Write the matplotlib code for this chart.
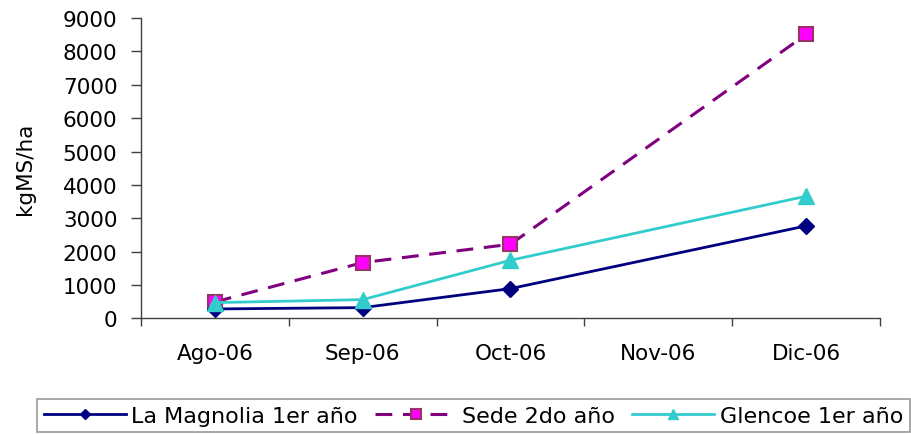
import numpy as np
import matplotlib
matplotlib.use('Agg')
import matplotlib.pyplot as plt
from matplotlib.ticker import FixedLocator, NullFormatter

plt.rcParams['font.family'] = ['DejaVu Sans']
FS = 15.5

months = ['Ago-06', 'Sep-06', 'Oct-06', 'Nov-06', 'Dic-06']
# no measurement taken in November
magnolia = [280, 320, 890, None, 2770]
sede = [490, 1670, 2220, None, 8510]
glencoe = [470, 560, 1740, None, 3660]

fig = plt.figure(figsize=(9.12, 4.35), dpi=100)
ax = fig.add_axes((0.1546, 0.266, 0.8103, 0.690))

def pts(vals):
    x = [i for i, v in enumerate(vals) if v is not None]
    y = [v for v in vals if v is not None]
    return x, y

x, y = pts(magnolia)
ax.plot(x, y, color='#000080', lw=2, marker='D', ms=8,
        mfc='#000080', mec='#000080', label='La Magnolia 1er año', zorder=3)
x, y = pts(sede)
ax.plot(x, y, color='#800080', lw=2.2, ls=(0, (5.5, 3.5)), marker='s', ms=10,
        mfc='#FF00FF', mec='#993366', mew=1.5, label='Sede 2do año', zorder=2)
x, y = pts(glencoe)
ax.plot(x, y, color='#33CCCC', lw=2, marker='^', ms=11,
        mfc='#33CCCC', mec='#33CCCC', label='Glencoe 1er año', zorder=4)

ax.set_xlim(-0.5, len(months) - 0.5)
ax.set_ylim(0, 9000)
ax.set_yticks(np.arange(0, 9001, 1000))

# ticks sit between categories, labels at the centres
ax.xaxis.set_major_locator(FixedLocator(np.arange(-0.5, len(months), 1.0)))
ax.xaxis.set_major_formatter(NullFormatter())
ax.xaxis.set_minor_locator(FixedLocator(np.arange(len(months))))
ax.set_xticklabels(months, minor=True)
ax.tick_params(axis='x', which='minor', length=0, pad=18, labelsize=FS)
ax.tick_params(axis='x', which='major', length=6, width=1, color='#404040')
ax.tick_params(axis='y', length=7, width=1, pad=10, labelsize=FS,
               color='#404040')

for s in ['top', 'right']:
    ax.spines[s].set_visible(False)
for s in ['left', 'bottom']:
    ax.spines[s].set_color('#404040')
    ax.spines[s].set_linewidth(1)

ax.set_ylabel('kgMS/ha', fontsize=FS, labelpad=20)

leg = fig.legend(loc='upper left', bbox_to_anchor=(37 / 912, 1 - 400 / 435),
                 ncol=3, fontsize=16, frameon=True, fancybox=False,
                 handlelength=3.7, handletextpad=0.25, columnspacing=0.75,
                 borderpad=0.3, borderaxespad=0, markerscale=0.7)
leg.get_frame().set_edgecolor('#808080')
leg.get_frame().set_linewidth(1.2)

fig.savefig('out.png', dpi=100)
